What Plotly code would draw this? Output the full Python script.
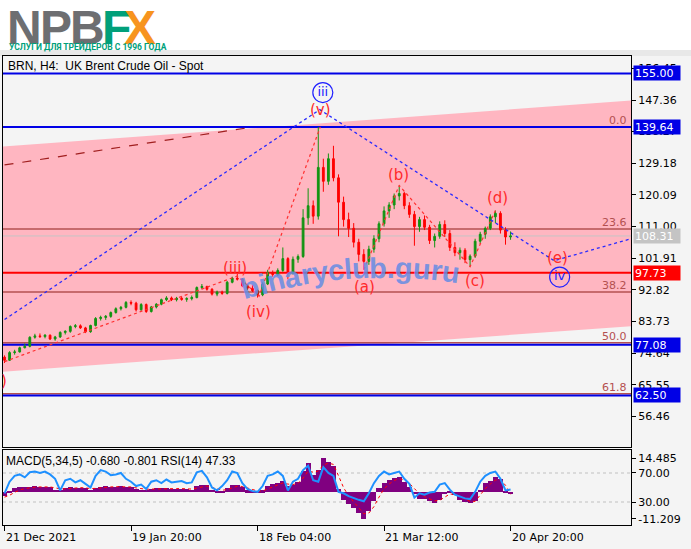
import math
import plotly.graph_objects as go

W, H = 691, 549

# right price scale of the main pane
price_ticks = [156.45, 147.36, 138.27, 129.18, 120.09, 111.00, 101.91, 92.82, 83.73, 74.64, 65.55, 56.46]

# time labels under the indicator pane (bar index -> label)
date_ticks = [0, 25, 50, 75, 100]
date_labels = ["21 Dec 2021", "19 Jan 20:00", "18 Feb 04:00", "21 Mar 12:00", "20 Apr 20:00"]

# BRN H4 candles (one bar every ~5 px)
opens = [73.5, 72.6, 74.8, 75.0, 76.2, 76.6, 79.2, 79.6, 79.4, 79.8,
         78.7, 79.3, 80.6, 80.9, 82.3, 82.5, 81.9, 80.8, 82.6, 84.6,
         84.9, 85.2, 86.3, 87.4, 87.8, 89.2, 89.0, 87.1, 88.6, 86.6,
         87.9, 88.7, 90.0, 90.5, 90.0, 90.4, 90.1, 90.3, 90.6, 93.5,
         93.8, 93.0, 91.6, 92.2, 91.8, 95.0, 96.2, 95.9, 94.0, 93.3,
         92.6, 91.4, 94.5, 97.8, 97.2, 98.4, 101.8, 97.6, 101.6, 102.4,
         113.5, 117.0, 114.0, 128.0, 124.0, 130.5, 125.0, 118.0, 113.0, 110.5,
         106.5, 103.0, 101.0, 104.5, 107.5, 111.8, 115.5, 117.2, 119.8, 120.5,
         117.0, 114.5, 111.0, 113.0, 110.8, 107.0, 108.2, 111.6, 109.0, 105.0,
         103.5, 104.2, 101.5, 102.5, 106.8, 108.8, 110.5, 113.8, 114.8, 110.0,
         108.0]
highs = [74.0, 75.2, 75.6, 76.5, 77.4, 79.5, 80.2, 80.3, 80.1, 80.0,
         79.6, 80.9, 81.2, 82.6, 83.0, 82.9, 82.2, 82.8, 85.0, 85.4,
         85.6, 86.6, 87.8, 88.2, 89.6, 89.8, 89.4, 89.0, 88.9, 88.2,
         89.0, 90.3, 91.0, 90.9, 90.8, 90.9, 90.7, 91.2, 93.8, 94.5,
         94.0, 93.3, 92.6, 92.6, 95.4, 96.6, 97.4, 96.2, 94.6, 94.2,
         93.0, 95.0, 98.6, 98.4, 99.0, 105.0, 102.2, 102.4, 103.0, 116.0,
         122.0, 118.5, 139.6, 130.5, 132.0, 134.2, 126.0, 119.6, 115.0, 112.0,
         107.5, 104.5, 105.5, 108.5, 112.5, 116.8, 118.0, 120.5, 122.8, 121.0,
         118.0, 115.5, 113.8, 114.2, 111.5, 109.0, 112.5, 112.8, 110.0, 106.5,
         105.0, 104.8, 103.0, 107.5, 109.5, 111.0, 114.5, 115.6, 115.4, 110.8,
         109.6]
lows = [71.8, 72.4, 74.2, 74.8, 76.0, 76.3, 78.8, 79.0, 78.9, 78.4,
        78.2, 79.0, 80.0, 80.5, 81.8, 81.6, 80.4, 80.5, 82.3, 84.0,
        84.2, 84.8, 86.0, 86.9, 87.5, 88.4, 86.6, 86.8, 86.2, 86.3,
        87.5, 88.4, 89.6, 89.6, 89.5, 89.7, 89.4, 89.8, 90.4, 93.0,
        92.6, 91.2, 91.0, 91.4, 91.5, 94.7, 95.5, 93.6, 92.8, 92.2,
        90.6, 91.0, 94.2, 96.6, 96.8, 98.0, 95.8, 97.2, 100.6, 102.0,
        111.5, 111.8, 113.0, 121.0, 123.0, 124.0, 108.2, 111.0, 108.0, 105.0,
        101.0, 98.6, 100.0, 103.5, 106.5, 111.0, 113.5, 116.0, 118.5, 116.0,
        113.5, 105.5, 109.5, 110.0, 106.0, 105.0, 107.5, 108.0, 104.0, 102.5,
        101.5, 100.5, 99.5, 102.0, 106.0, 107.5, 110.0, 112.0, 109.0, 105.8,
        107.2]
closes = [72.6, 74.8, 75.0, 76.2, 76.6, 79.2, 79.6, 79.4, 79.8, 78.7,
          79.3, 80.6, 80.9, 82.3, 82.5, 81.9, 80.8, 82.6, 84.6, 84.9,
          85.2, 86.3, 87.4, 87.8, 89.2, 89.0, 87.1, 88.6, 86.6, 87.9,
          88.7, 90.0, 90.5, 90.0, 90.4, 90.1, 90.3, 90.6, 93.5, 93.8,
          93.0, 91.6, 92.2, 91.8, 95.0, 96.2, 95.9, 94.0, 93.3, 92.6,
          91.4, 94.5, 97.8, 97.2, 98.4, 101.8, 97.6, 101.6, 102.4, 113.5,
          117.0, 114.0, 128.0, 124.0, 130.5, 125.0, 118.0, 113.0, 110.5, 106.5,
          103.0, 101.0, 104.5, 107.5, 111.8, 115.5, 117.2, 119.8, 120.5, 117.0,
          114.5, 111.0, 113.0, 110.8, 107.0, 108.2, 111.6, 109.0, 105.0, 103.5,
          104.2, 101.5, 102.5, 106.8, 108.8, 110.5, 113.8, 114.8, 110.0, 108.0,
          108.31]
bars = list(range(len(closes)))

# MACD(5,34,5) histogram + signal, RSI(14)
macd_hist = [-1.5, 0.5, 1.8, 2.2, 2.2, 2.4, 2.5, 2.3, 2.4, 2.2,
             1.2, 1.0, 1.8, 2.1, 2.0, 2.0, 1.7, 1.2, 2.0, 2.4,
             2.5, 2.4, 2.4, 2.5, 2.4, 2.2, 1.3, 1.0, 1.2, 1.6,
             1.7, 1.8, 1.8, 1.6, 1.5, 1.6, 1.4, 1.2, 2.6, 3.2,
             3.0, 1.0, 0.4, 0.6, 1.8, 3.0, 3.2, 2.2, 0.8, 0.3,
             0.2, 0.8, 2.8, 3.5, 4.0, 5.0, 2.5, 3.0, 4.5, 9.0,
             12.5, 7.5, 9.5, 14.5, 12.8, 11.0, 1.5, -3.0, -5.0, -6.5,
             -8.8, -11.0, -8.0, -3.5, 2.0, 4.0, 5.2, 6.2, 6.4, 4.5,
             2.2, -0.8, -2.6, -2.8, -3.5, -4.5, -3.0, -0.5, 0.4, -1.0,
             -3.0, -4.0, -4.5, -3.8, 1.2, 4.0, 5.0, 6.5, 5.5, 0.5,
             -0.68]
macd_signal = [-2.0, -1.2, 0.0, 1.0, 1.6, 2.0, 2.2, 2.3, 2.3, 2.3,
               1.9, 1.5, 1.5, 1.7, 1.9, 2.0, 1.9, 1.6, 1.7, 2.0,
               2.2, 2.3, 2.4, 2.4, 2.4, 2.3, 1.9, 1.5, 1.3, 1.4,
               1.5, 1.6, 1.7, 1.7, 1.6, 1.6, 1.5, 1.4, 1.8, 2.4,
               2.7, 2.1, 1.4, 0.9, 1.2, 2.0, 2.6, 2.5, 1.8, 1.1,
               0.6, 0.6, 1.5, 2.4, 3.1, 4.0, 3.5, 3.3, 3.8, 6.0,
               9.0, 8.5, 9.0, 11.5, 12.3, 11.8, 7.0, 2.0, -1.5, -4.0,
               -6.5, -9.0, -8.7, -6.0, -2.0, 1.5, 3.5, 5.0, 5.8, 5.2,
               3.8, 1.5, -0.6, -1.8, -2.6, -3.6, -3.3, -1.9, -0.7, -0.8,
               -1.9, -3.0, -3.8, -3.8, -1.3, 1.6, 3.5, 5.2, 5.4, 3.0,
               -0.80]
rsi = [42, 58, 66, 68, 64, 71, 72, 70, 72, 68,
       62, 46, 60, 62, 57, 60, 55, 50, 66, 74,
       72, 67, 68, 70, 62, 58, 52, 54, 48, 58,
       60, 56, 61, 57, 58, 59, 56, 57, 71, 73,
       64, 50, 46, 52, 60, 72, 70, 56, 48, 45,
       44, 52, 66, 68, 72, 66, 46, 58, 62, 74,
       80, 60, 58, 78, 70, 66, 44, 42, 38, 35,
       33, 31, 42, 56, 66, 72, 68, 70, 72, 62,
       55, 36, 42, 40, 43, 44, 54, 56, 47, 40,
       37, 35, 34, 44, 58, 66, 70, 72, 62, 46,
       47.33]

# horizontal levels with their price boxes
level_prices = [155.00, 139.64, 97.73, 77.08, 62.50]
level_colors = ["#0000E6", "#0000E6", "#FF0000", "#0000E6", "#0000E6"]
fib_names = ["0.0", "23.6", "38.2", "50.0", "61.8"]
fib_prices = [139.64, 110.3, 92.2, 77.6, 63.0]
bid_price = 108.31

# rising channel (pink)
chan_x = [-0.3, 123.8]
chan_upper = [134.0, 147.2]
chan_lower = [69.3, 82.4]

# wave lines
red_wave_x = [0, 46, 50.3, 62.4]
red_wave_y = [72.2, 96.8, 91.0, 139.64]
red_wave2_x = [71, 78, 92, 97]
red_wave2_y = [98.6, 122.8, 99.5, 115.6]
blue_wave_x = [0, 62.3, 108.6, 123.8]
blue_wave_y = [84.3, 144.6, 101.2, 107.5]
old_trend_x = [0, 49.2]
old_trend_y = [128.7, 139.64]

# wave labels
red_labels = ["(iii)", "(iv)", "(v)", "(a)", "(b)", "(c)", "(d)", "(e)", ")"]
red_label_x = [45.5, 50.2, 62.5, 71.2, 77.9, 92.9, 97.4, 109.3, -0.1]
red_label_y = [99.1, 86.5, 144.4, 93.6, 125.8, 95.4, 119.2, 102.1, 66.6]
blue_labels = ["iii", "iv"]
blue_label_x = [62.9, 109.7]
blue_label_y = [149.5, 96.5]

XR = [-0.3, 123.8]
main_dom = [1 - 447 / H, 1 - 56 / H]
ind_dom = [1 - 525 / H, 1 - 450 / H]
x_dom = [3 / W, 631 / W]
AXF = dict(family="DejaVu Sans", size=11, color="black")

fig = go.Figure()

# candles
fig.add_trace(go.Candlestick(
    x=bars, open=opens, high=highs, low=lows, close=closes,
    increasing=dict(line=dict(color="#129412", width=1), fillcolor="#129412"),
    decreasing=dict(line=dict(color="#FF0000", width=1), fillcolor="#FF0000"),
    xaxis="x", yaxis="y", hoverinfo="skip", showlegend=False))

# wave lines over the candles
fig.add_trace(go.Scatter(x=old_trend_x, y=old_trend_y, mode="lines",
                         line=dict(color="#A01E1E", width=1.2, dash="dash"), showlegend=False))
fig.add_trace(go.Scatter(x=red_wave_x, y=red_wave_y, mode="lines",
                         line=dict(color="#FF3030", width=1.2, dash="dot"), showlegend=False))
fig.add_trace(go.Scatter(x=red_wave2_x, y=red_wave2_y, mode="lines",
                         line=dict(color="#FF3030", width=1.2, dash="dot"), showlegend=False))
fig.add_trace(go.Scatter(x=blue_wave_x, y=blue_wave_y, mode="lines",
                         line=dict(color="#2A2AFF", width=1.3, dash="dot"), showlegend=False))

# blue circled labels
fig.add_trace(go.Scatter(x=blue_label_x, y=blue_label_y, mode="markers+text", text=blue_labels,
                         textposition="middle center",
                         textfont=dict(family="DejaVu Sans", size=13, color="#2020FF"),
                         marker=dict(symbol="circle-open", size=20, color="#2020FF", line=dict(width=1.2)),
                         showlegend=False))

# indicator pane
fig.add_trace(go.Bar(x=bars, y=macd_hist, width=1.0, marker=dict(color="#800080", line=dict(width=0)),
                     xaxis="x2", yaxis="y2", showlegend=False))
fig.add_trace(go.Scatter(x=bars, y=macd_signal, mode="lines", line=dict(color="#FF0000", width=1, dash="dot"),
                         xaxis="x2", yaxis="y2", showlegend=False))
fig.add_trace(go.Scatter(x=bars, y=rsi, mode="lines", line=dict(color="#1E90FF", width=2),
                         xaxis="x2", yaxis="y3", showlegend=False))

shapes = []
# header (white) and thin grey band
shapes.append(dict(type="rect", xref="paper", yref="paper", x0=0, x1=1, y0=1 - 50 / H, y1=1,
                   fillcolor="white", line=dict(width=0), layer="below"))
shapes.append(dict(type="rect", xref="paper", yref="paper", x0=0, x1=1, y0=1 - 56 / H, y1=1 - 50 / H,
                   fillcolor="#E8E8E8", line=dict(width=0), layer="below"))
# pink channel
path = "M {} {} L {} {} L {} {} L {} {} Z".format(chan_x[0], chan_lower[0], chan_x[1], chan_lower[1],
                                                  chan_x[1], chan_upper[1], chan_x[0], chan_upper[0])
shapes.append(dict(type="path", path=path, xref="x", yref="y", fillcolor="#FFB6C1",
                   line=dict(width=0), layer="below"))
# fibo levels
for p in fib_prices:
    shapes.append(dict(type="line", xref="x", yref="y", x0=XR[0], x1=XR[1], y0=p, y1=p,
                       line=dict(color="#B45050", width=1.5), layer="below"))
# bid line
shapes.append(dict(type="line", xref="x", yref="y", x0=XR[0], x1=XR[1], y0=bid_price, y1=bid_price,
                   line=dict(color="#C4C4C4", width=1), layer="below"))
# horizontal levels
for p, c in zip(level_prices, level_colors):
    shapes.append(dict(type="line", xref="x", yref="y", x0=XR[0], x1=XR[1], y0=p, y1=p,
                       line=dict(color=c, width=2), layer="below"))
# RSI 70 / 30
for v in [70, 30]:
    shapes.append(dict(type="line", xref="x2", yref="y3", x0=XR[0], x1=XR[1], y0=v, y1=v,
                       line=dict(color="#C0C0C0", width=1, dash="dot"), layer="below"))

ann = []
# logo
logo_letters = ["N", "P", "B", "F", "X"]
logo_cx = [24, 56, 87, 116, 140]
logo_col = ["#6D6E71", "#6D6E71", "#6D6E71", "#00A07A", "#F7941E"]
for t, cx, c in zip(logo_letters, logo_cx, logo_col):
    ann.append(dict(text="<b>" + t + "</b>", x=cx / W, y=1 - 28 / H, xref="paper", yref="paper",
                    showarrow=False, xanchor="center", yanchor="middle",
                    font=dict(family="Liberation Sans", size=48, color=c)))
ann.append(dict(text="<b>УСЛУГИ ДЛЯ ТРЕЙДЕРОВ С 1996 ГОДА</b>", x=7 / W, y=1 - 46 / H,
                xref="paper", yref="paper", showarrow=False, xanchor="left", yanchor="middle",
                font=dict(family="Roboto", size=8.5, color="#00A07A")))

# titles
ann.append(dict(text="BRN, H4:  UK Brent Crude Oil - Spot", x=6 / W, y=1 - 66 / H, xref="paper", yref="paper",
                showarrow=False, xanchor="left", yanchor="middle",
                font=dict(family="Liberation Sans", size=12, color="black")))
ann.append(dict(text="MACD(5,34,5) -0.680 -0.801 RSI(14) 47.33", x=4 / W, y=1 - 461 / H,
                xref="paper", yref="paper", showarrow=False, xanchor="left", yanchor="middle",
                font=dict(family="Liberation Sans", size=12, color="black")))

# fibo labels
for n, p in zip(fib_names, fib_prices):
    ann.append(dict(text=n, x=XR[1] - 0.4, y=p, xref="x", yref="y", showarrow=False,
                    xanchor="right", yanchor="bottom", yshift=-2,
                    font=dict(family="DejaVu Sans", size=11, color="#B45050")))

# price boxes
box_prices = level_prices + [bid_price]
box_colors = level_colors + ["#C4C4C4"]
for p, c in zip(box_prices, box_colors):
    ann.append(dict(text="%.2f" % p, x=633 / W, y=p, xref="paper", yref="y", showarrow=False,
                    xanchor="left", yanchor="middle", align="left", bgcolor=c, width=44, height=12,
                    borderpad=1, font=dict(family="DejaVu Sans", size=11, color="white")))

# red wave labels
for t, x, y in zip(red_labels, red_label_x, red_label_y):
    ann.append(dict(text=t, x=x, y=y, xref="x", yref="y", showarrow=False,
                    font=dict(family="DejaVu Sans", size=15, color="#FF2A2A")))

# date labels
for d, t in zip(date_ticks, date_labels):
    ann.append(dict(text=t, x=d, y=1 - 537 / H, xref="x2", yref="paper", showarrow=False,
                    xanchor="left", yanchor="middle", xshift=-1, font=AXF))

# watermark along an arc
wm = "binaryclub.guru"
adv = {"b": .611, "i": .278, "n": .611, "a": .556, "r": .389, "y": .556, "c": .556,
       "l": .278, "u": .611, ".": .278, "g": .611}
fs = 29
xpos = 244
for ch in wm:
    w = adv[ch] * fs
    cx = xpos + w / 2
    by = 277 + 0.0011 * (cx - 385) ** 2
    phi = math.atan(0.0022 * (cx - 385))
    px = cx + 9.5 * math.sin(phi)
    py = by - 9.5 * math.cos(phi)
    ann.append(dict(text="<b>" + ch + "</b>", x=px / W, y=1 - py / H, xref="paper", yref="paper",
                    showarrow=False, xanchor="center", yanchor="middle", textangle=math.degrees(phi),
                    font=dict(family="Liberation Sans", size=fs, color="rgba(100,140,228,0.85)")))
    xpos += w * 0.975

fig.update_layout(
    width=W, height=H, margin=dict(l=0, r=0, t=0, b=0),
    paper_bgcolor="#F4F4F4", plot_bgcolor="#F4F4F4",
    showlegend=False, bargap=0, boxgap=0.5, shapes=shapes, annotations=ann,
    xaxis=dict(domain=x_dom, range=XR, anchor="y", showticklabels=False, showgrid=False, zeroline=False,
               showline=True, mirror=True, linecolor="black", linewidth=1, rangeslider=dict(visible=False),
               fixedrange=True),
    yaxis=dict(domain=main_dom, range=[47.68, 160.0], side="right", anchor="x", tickvals=price_ticks,
               ticktext=["%.2f" % v for v in price_ticks], ticks="outside", ticklen=4, tickcolor="black",
               showgrid=False, zeroline=False, showline=True, mirror=True, linecolor="black", linewidth=1,
               tickfont=AXF),
    xaxis2=dict(domain=x_dom, range=XR, anchor="y2", tickvals=date_ticks, ticks="outside", ticklen=5,
                tickcolor="black", showticklabels=False, showgrid=False, zeroline=False,
                showline=True, mirror=True, linecolor="black", linewidth=1),
    yaxis2=dict(domain=ind_dom, range=[-13.74, 17.86], side="right", anchor="x2", tickvals=[14.485, -11.209],
                ticktext=["14.485", "-11.209"], ticks="outside", ticklen=4, tickcolor="black",
                showgrid=False, zeroline=False, showline=True, mirror=True, linecolor="black", linewidth=1,
                tickfont=AXF),
    yaxis3=dict(overlaying="y2", range=[-1.7, 101.7], side="right", anchor="x2", tickvals=[70, 30],
                ticktext=["70.00", "30.00"], ticks="outside", ticklen=4, tickcolor="black",
                showgrid=False, zeroline=False, showline=False, tickfont=AXF),
)

# the page body has an 8px default margin; drop it so the figure fills the window
fig.write_html("out.html", config={"displayModeBar": False},
               post_script="document.body.style.margin='0';")
